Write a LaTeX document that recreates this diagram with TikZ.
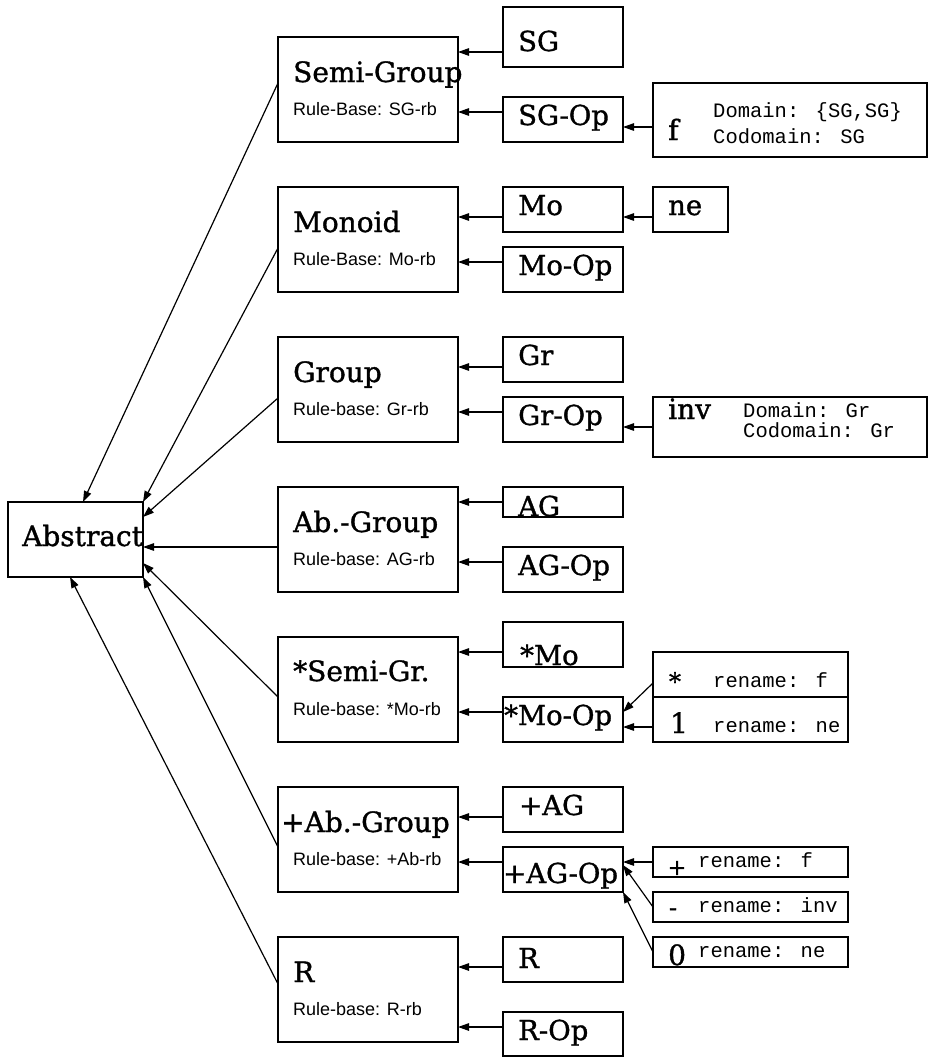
\documentclass[tikz,border=0pt]{standalone}
\usepackage{fontspec}
\setmainfont{DejaVu Serif}[RawFeature={embolden=1.2}]
\newfontfamily\rbsans{Liberation Sans}
\newfontfamily\rbmono{Liberation Mono}
\usetikzlibrary{arrows.meta}
\begin{document}
\begin{tikzpicture}[x=1pt,y=-1pt,
  lw/.style={line width=1.2pt},
  boxbase/.style={draw,lw,inner sep=0pt,outer sep=0pt,anchor=north west},
  mainbox/.style={boxbase,minimum width=180,minimum height=105},
  subbox/.style={boxbase,minimum width=120,minimum height=#1},
  subbox/.default=45,
  infobox/.style={boxbase,minimum width=#1},
  title/.style={anchor=base west,inner sep=0pt,font=\fontsize{28}{30}\selectfont},
  sublabel/.style={anchor=base west,inner sep=0pt,font=\fontsize{27.5}{29}\selectfont},
  symb/.style={anchor=center,inner sep=0pt,font=\fontsize{24}{26}\selectfont},
  rulet/.style={anchor=base west,inner sep=0pt,font=\rbsans\fontsize{18}{20}\selectfont},
  mono/.style={anchor=base west,inner sep=0pt,font=\rbmono\fontsize{20.5}{22}\selectfont},
  arr/.style={lw,-{Triangle[length=11pt,width=7.5pt]}}
]
\useasboundingbox (0,0) rectangle (928,1057);

% Abstract
\node[boxbase,minimum width=135,minimum height=75] (abstract) at (8,502) {};
\node[title] (tabstract) at (22,546) {Abstract};

% main boxes
\node[mainbox] (semigroup) at (278,37) {};
\node[mainbox] (monoid) at (278,187) {};
\node[mainbox] (group) at (278,337) {};
\node[mainbox] (abgroup) at (278,487) {};
\node[mainbox] (semigr) at (278,637) {};
\node[mainbox] (plusab) at (278,787) {};
\node[mainbox] (ring) at (278,937) {};

\node[title] (tsemigroup) at (293,82) {Semi-Group};
\node[title] (tmonoid) at (293,232) {Monoid};
\node[title] (tgroup) at (293,382) {Group};
\node[title] (tabgroup) at (293,532) {Ab.-Group};
\node[title] (tsemigr) at (293,681) {*Semi-Gr.};
\node[title] (tplusab) at (281,832) {+Ab.-Group};
\node[title] (tring) at (293,982) {R};

\node[rulet] (rsemigroup) at (293,115) {Rule-Base: SG-rb};
\node[rulet] (rmonoid) at (293,265) {Rule-Base: Mo-rb};
\node[rulet] (rgroup) at (293,415) {Rule-base: Gr-rb};
\node[rulet] (rabgroup) at (293,565) {Rule-base: AG-rb};
\node[rulet] (rsemigr) at (293,715) {Rule-base: *Mo-rb};
\node[rulet] (rplusab) at (293,865) {Rule-base: +Ab-rb};
\node[rulet] (rring) at (293,1015) {Rule-base: R-rb};

% sub boxes
\node[subbox=60] (sg) at (503,7) {};
\node[subbox] (sgop) at (503,97) {};
\node[subbox] (mo) at (503,187) {};
\node[subbox] (moop) at (503,247) {};
\node[subbox] (gr) at (503,337) {};
\node[subbox] (grop) at (503,397) {};
\node[subbox=30] (ag) at (503,487) {};
\node[subbox] (agop) at (503,547) {};
\node[subbox] (smo) at (503,622) {};
\node[subbox] (smoop) at (503,697) {};
\node[subbox] (pag) at (503,787) {};
\node[subbox] (pagop) at (503,847) {};
\node[subbox] (rr) at (503,937) {};
\node[subbox=44] (rop) at (503,1012) {};

\node[sublabel] (tsg) at (518,51) {SG};
\node[sublabel] (tsgop) at (518,125) {SG-Op};
\node[sublabel] (tmo) at (518,215) {Mo};
\node[sublabel] (tmoop) at (518,275) {Mo-Op};
\node[sublabel] (tgr) at (518,365) {Gr};
\node[sublabel] (tgrop) at (518,425) {Gr-Op};
\node[sublabel] (tag) at (518,516) {AG};
\node[sublabel] (tagop) at (518,575) {AG-Op};
\node[sublabel] (tsmo) at (520,665) {*Mo};
\node[sublabel] (tsmoop) at (504,725) {*Mo-Op};
\node[sublabel] (tpag) at (519,815) {+AG};
\node[sublabel] (tpagop) at (503,883) {+AG-Op};
\node[sublabel] (trr) at (518,968) {R};
\node[sublabel] (trop) at (518,1040) {R-Op};

% info boxes
\node[infobox=274,minimum height=74] (fbox) at (653,83) {};
\node[title] (tf) at (668,140) {f};
\node[mono] (tfd) at (713,117) {Domain: \{SG,SG\}};
\node[mono] (tfc) at (713,143) {Codomain: SG};

\node[infobox=75,minimum height=45] (ne) at (653,187) {};
\node[sublabel] (tne) at (668,215) {ne};

\node[infobox=274,minimum height=60] (inv) at (653,397) {};
\node[title] (tinv) at (668,419) {inv};
\node[mono] (tinvd) at (743,417) {Domain: Gr};
\node[mono] (tinvc) at (743,437) {Codomain: Gr};

\node[infobox=195,minimum height=45] (renst) at (653,652) {};
\node[infobox=195,minimum height=45] (renone) at (653,697) {};
\node[symb] (tst) at (675,681) {*};
\node[mono] (tstr) at (713,687) {rename: f};
\node[title] (tone) at (670,733) {1};
\node[mono] (toner) at (713,732) {rename: ne};

\node[infobox=195,minimum height=30] (renpl) at (653,847) {};
\node[infobox=195,minimum height=30] (renmi) at (653,892) {};
\node[infobox=195,minimum height=30] (renze) at (653,937) {};
\node[symb,font=\fontsize{22}{24}\selectfont] (tpl) at (677,868) {+};
\node[mono] (tplr) at (698,867) {rename: f};
\node[symb] (tmi) at (673,912) {-};
\node[mono] (tmir) at (698,912) {rename: inv};
\node[title] (tze) at (668,965) {0};
\node[mono] (tzer) at (698,957) {rename: ne};

% connectors to Abstract
\draw[arr] (semigroup.west |- 0,83) -- (abstract.north -| 83,0);
\draw[arr] (monoid.west |- 0,248) -- (abstract.north east);
\draw[arr] (group.west |- 0,398) -- (abstract.east |- 0,517);
\draw[arr] (abgroup.west |- 0,547) -- (abstract.east |- 0,547);
\draw[arr] (semigr.west |- 0,697) -- (abstract.east |- 0,563);
\draw[arr] (plusab.west |- 0,847) -- (abstract.south east);
\draw[arr] (ring.west |- 0,984) -- (abstract.south -| 70,0);

% sub connectors
\draw[arr] (sg.west |- 0,52) -- (semigroup.east |- 0,52);
\draw[arr] (sgop.west |- 0,112) -- (semigroup.east |- 0,112);
\draw[arr] (fbox.west |- 0,127) -- (sgop.east |- 0,127);
\draw[arr] (mo.west |- 0,217) -- (monoid.east |- 0,217);
\draw[arr] (moop.west |- 0,262) -- (monoid.east |- 0,262);
\draw[arr] (ne.west |- 0,217) -- (mo.east |- 0,217);
\draw[arr] (gr.west |- 0,367) -- (group.east |- 0,367);
\draw[arr] (grop.west |- 0,412) -- (group.east |- 0,412);
\draw[arr] (inv.west |- 0,427) -- (grop.east |- 0,427);
\draw[arr] (ag.west |- 0,502) -- (abgroup.east |- 0,502);
\draw[arr] (agop.west |- 0,562) -- (abgroup.east |- 0,562);
\draw[arr] (smo.west |- 0,652) -- (semigr.east |- 0,652);
\draw[arr] (smoop.west |- 0,712) -- (semigr.east |- 0,712);
\draw[arr] (renst.west |- 0,683) -- (smoop.east |- 0,712);
\draw[arr] (renone.west |- 0,727) -- (smoop.east |- 0,727);
\draw[arr] (pag.west |- 0,817) -- (plusab.east |- 0,817);
\draw[arr] (pagop.west |- 0,862) -- (plusab.east |- 0,862);
\draw[arr] (renpl.west |- 0,862) -- (pagop.east |- 0,862);
\draw[arr] (renmi.west |- 0,907) -- (pagop.east |- 0,865);
\draw[arr] (renze.west |- 0,952) -- (pagop.south east);
\draw[arr] (rr.west |- 0,967) -- (ring.east |- 0,967);
\draw[arr] (rop.west |- 0,1027) -- (ring.east |- 0,1027);
\end{tikzpicture}
\end{document}
